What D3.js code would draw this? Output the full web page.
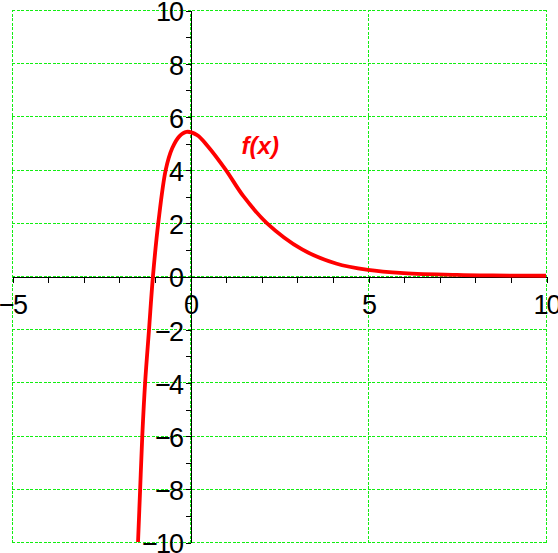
<!DOCTYPE html>
<html>
<head>
<meta charset="utf-8">
<script src="https://cdn.jsdelivr.net/npm/d3@7"></script>
<style>
  html, body { margin: 0; padding: 0; background: #fff; }
  svg { display: block; }
  .lbl text { font-family: "Liberation Sans", Arial, sans-serif; font-size: 27px; fill: #000; letter-spacing: -2px; }
</style>
</head>
<body>
<script>
// ---- data ----
const curveX = [-1.46, -1.40, -1.34, -1.26, -1.15, -1.04, -0.89, -0.68, -0.50, -0.30, -0.10, 0.20, 0.50, 1.00, 1.50, 2.15, 3.15, 4.10, 5.00, 6.00, 7.50, 8.50, 10.00];
const curveY = [-10.0, -8.0, -6.0, -4.0, -2.0, 0.0, 2.0, 4.0, 4.80, 5.25, 5.42, 5.30, 4.88, 4.00, 3.00, 2.00, 1.00, 0.47, 0.23, 0.11, 0.04, 0.02, 0.01];
const xDomain = [-5, 10];
const yDomain = [-10, 10];
const xLabelTicks = [-5, 0, 5, 10];
const yLabelTicks = [-10, -8, -6, -4, -2, 0, 2, 4, 6, 8, 10];
const xMinorTicks = d3.range(-5, 11, 1);
const yMinorTicks = d3.range(-10, 11, 1);
const xGrid = [-5, 0, 5, 10];
const yGrid = [-10, -8, -6, -4, -2, 0, 2, 4, 6, 8, 10];
const seriesLabel = "f(x)";

const W = 558, H = 553;
const svg = d3.select("body").append("svg").attr("width", W).attr("height", H);

const x = d3.scaleLinear().domain(xDomain).range([12, 546]);
const y = d3.scaleLinear().domain(yDomain).range([542, 10]);
const px = v => Math.round(x(v)) + 0.5;
const py = v => Math.round(y(v)) + 0.5;

// grid
const grid = svg.append("g").attr("stroke", "#11ee11").attr("stroke-width", 1)
  .attr("stroke-dasharray", "3,1.5").attr("shape-rendering", "crispEdges");
grid.selectAll("line.h").data(yGrid).enter().append("line")
  .attr("x1", Math.round(x(xDomain[0]))).attr("x2", Math.round(x(xDomain[1])) + 1)
  .attr("y1", d => py(d)).attr("y2", d => py(d));
grid.selectAll("line.v").data(xGrid).enter().append("line")
  .attr("y1", Math.round(y(yDomain[0])) + 1).attr("y2", Math.round(y(yDomain[1])))
  .attr("x1", d => px(d)).attr("x2", d => px(d));

// axes: minor ticks
const xAxisMinor = d3.axisBottom(x).tickValues(xMinorTicks).tickSize(6).tickSizeOuter(0).tickFormat("");
const yAxisMinor = d3.axisLeft(y).tickValues(yMinorTicks).tickSize(5).tickSizeOuter(0).tickFormat("");
const gx = svg.append("g").attr("transform", `translate(0.5,${Math.round(y(0)) + 0.5})`).call(xAxisMinor);
const gy = svg.append("g").attr("transform", `translate(${Math.round(x(0)) + 0.5},0.5)`).call(yAxisMinor);
[gx, gy].forEach(g => {
  g.selectAll("path, line").attr("stroke", "#000").attr("stroke-width", 1).attr("shape-rendering", "crispEdges");
});

// labels
const fmt = d => d < 0 ? "\u2212" + Math.abs(d) : String(d);
const xLab = d3.axisBottom(x).tickValues(xLabelTicks).tickSize(0).tickPadding(19).tickFormat(fmt);
const yLab = d3.axisLeft(y).tickValues(yLabelTicks).tickSize(0).tickPadding(8).tickFormat(fmt);
const gxl = svg.append("g").attr("class", "lbl").attr("transform", `translate(0,${y(0)})`).call(xLab);
const gyl = svg.append("g").attr("class", "lbl").attr("transform", `translate(${x(0)},0)`).call(yLab);
[gxl, gyl].forEach(g => { g.select(".domain").remove(); g.attr("font-family", null).attr("font-size", null); });
gyl.selectAll("text").attr("dy", "0.4em");

// curve
svg.append("clipPath").attr("id", "clip").append("rect")
  .attr("x", x(xDomain[0])).attr("y", y(yDomain[1]))
  .attr("width", x(xDomain[1]) - x(xDomain[0])).attr("height", y(yDomain[0]) - y(yDomain[1]));
const pts = curveX.map((v, i) => [v, curveY[i]]);
const line = d3.line().x(d => x(d[0])).y(d => y(d[1])).curve(d3.curveCatmullRom.alpha(0.5));
svg.append("path").datum(pts)
  .attr("clip-path", "url(#clip)")
  .attr("d", line)
  .attr("fill", "none").attr("stroke", "#ff0000").attr("stroke-width", 3.8)
  .attr("stroke-linejoin", "round");

// series label
svg.append("text").attr("x", x(1.45)).attr("y", y(4.6))
  .attr("font-family", "Liberation Sans, Arial, sans-serif")
  .attr("font-size", 24).attr("font-weight", "bold").attr("font-style", "italic")
  .attr("fill", "#ff0000").text(seriesLabel);
</script>
</body>
</html>
